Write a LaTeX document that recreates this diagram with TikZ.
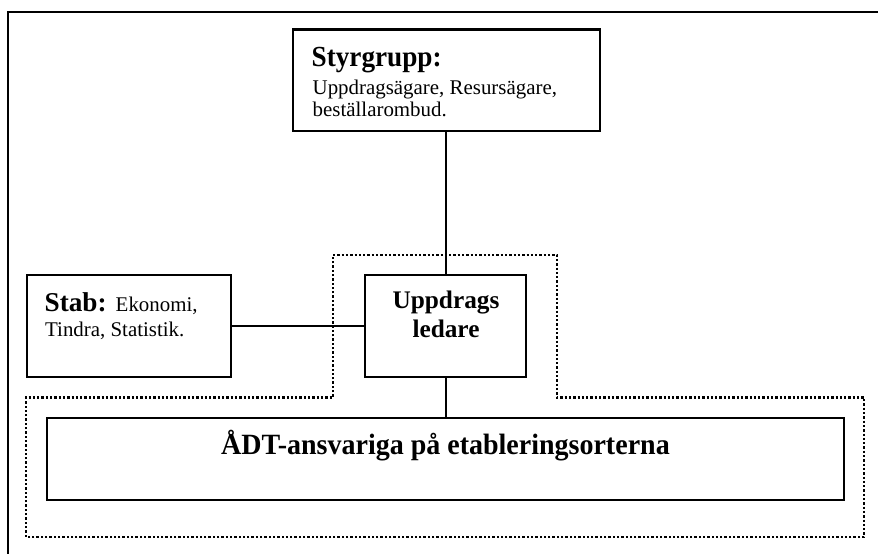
\documentclass[tikz,border=0pt]{standalone}
\usepackage{fontspec}
\setmainfont{Liberation Serif}
\begin{document}
\begin{tikzpicture}[x=1pt,y=-1pt,
  box/.style={draw, line width=2.2pt, inner sep=0pt},
  link/.style={line width=1.8pt},
  group/.style={draw, line width=2.4pt, dash pattern=on 2.3pt off 2pt},
  head/.style={font=\fontsize{27.2}{30}\selectfont\bfseries, inner sep=0pt, anchor=base west},
  body/.style={font=\fontsize{20.9}{24}\selectfont, inner sep=0pt, anchor=base west},
  mid/.style={font=\fontsize{25.3}{28}\selectfont\bfseries, inner sep=0pt, anchor=base},
  wide/.style={font=\fontsize{28}{32}\selectfont\bfseries, inner sep=0pt, anchor=base}]
\useasboundingbox (0,0) rectangle (878,554);

% page frame, running off the right and bottom edges
\begin{scope}
  \clip (0,0) rectangle (878,554);
  \draw[line width=2.3pt] (8.3,600) -- (8.3,12) -- (900,12);
\end{scope}

% dotted outline around the leader and the local staff
\draw[group] (333,255) -- (557,255) -- (557,397.5) -- (864,397.5) -- (864,537)
  -- (26,537) -- (26,397.5) -- (333,397.5) -- cycle;

% boxes
\node[box, minimum width=307pt, minimum height=101.5pt] (styr) at (446.3,80.3) {};
\node[box, minimum width=204pt, minimum height=102pt] (stab) at (129,326) {};
\node[box, minimum width=161pt, minimum height=102pt] (upp) at (445.7,326) {};
\node[box, minimum width=797pt, minimum height=82pt] (adt) at (445.5,459) {};

% texts
\node[head] (styrhead) at (311.5,66.7) {\scalebox{1}[1.07]{Styrgrupp:}};
\node[body] (styrl1) at (312.5,94) {Uppdragsägare, Resursägare,};
\node[body] (styrl2) at (312.5,116.5) {beställarombud.};

\node[head] (stabl1) at (44.5,311) {Stab: {\fontsize{20.9}{24}\selectfont\mdseries Ekonomi,}};
\node[body] (stabl2) at (45,336.7) {Tindra, Statistik.};

\node[mid] (uppl1) at (446,308.3) {Uppdrags};
\node[mid] (uppl2) at (446,337.3) {ledare};

\node[wide] (adtl) at (445.5,454) {\scalebox{1}[1.05]{ÅDT-ansvariga på etableringsorterna}};

% connectors
\draw[link] (upp.north |- styr.south) -- (upp.north);
\draw[link] (stab.east) -- (upp.west);
\draw[link] (upp.south) -- (upp.south |- adt.north);
\end{tikzpicture}
\end{document}
